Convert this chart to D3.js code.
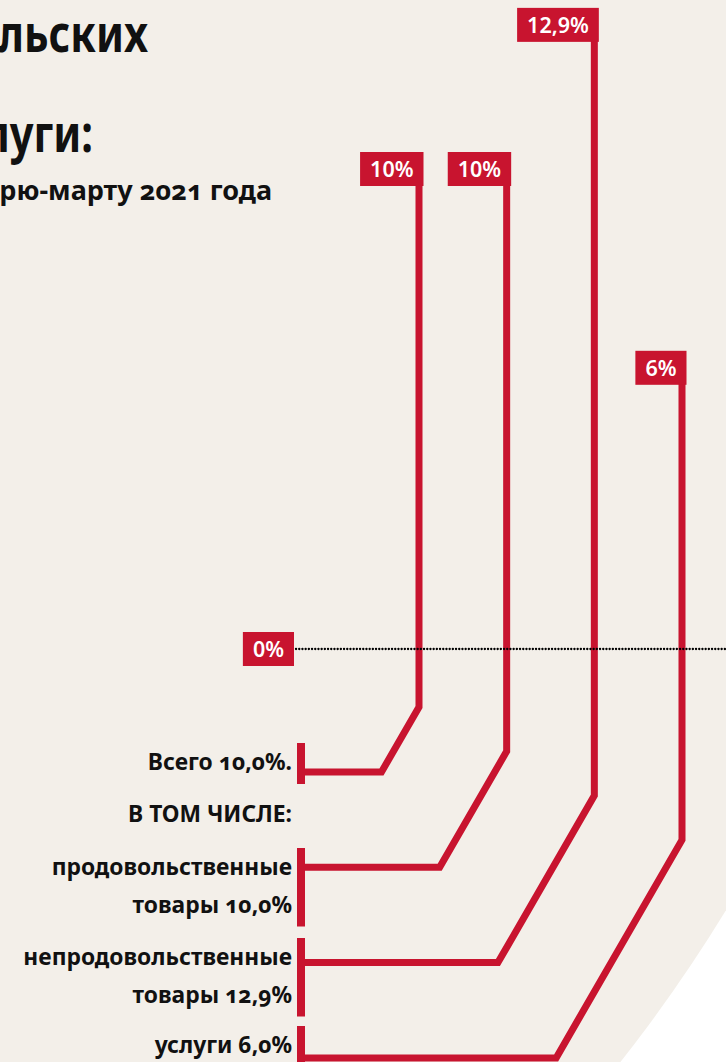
<!DOCTYPE html>
<html>
<head>
<meta charset="utf-8">
<script src="https://cdn.jsdelivr.net/npm/d3@7"></script>
<style>
  body { margin: 0; background: #fff; }
  svg { display: block; font-family: "Noto Sans", "Open Sans", sans-serif; }
</style>
</head>
<body>
<script>
const width = 726;
const height = 1062;

// data
const categories = ["Всего", "продовольственные товары", "непродовольственные товары", "услуги"];
const values = [10.0, 10.0, 12.9, 6.0];
const valueLabels = ["10%", "10%", "12,9%", "6%"];
const legendLines = [
    ["Всего 10,0%."],
    ["продовольственные", "товары 10,0%"],
    ["непродовольственные", "товары 12,9%"],
    ["услуги 6,0%"]
];
const zeroLabel = "0%";
const titleLines = ["потребительских", "услуги:"];
const subtitle = "к январю-марту 2021 года";
const inclHeader = "В ТОМ ЧИСЛЕ:";

const red = "#c8142f";
const beige = "#f3efe9";

const svg = d3.select("body").append("svg")
    .attr("width", width)
    .attr("height", height);

// big background disc
svg.append("circle")
    .attr("cx", -600)
    .attr("cy", 100)
    .attr("r", 1554)
    .attr("fill", beige);

const x = d3.scalePoint().domain(categories).range([419, 682]);
const y = d3.scaleLinear().domain([0, 12.9]).range([649, 649 - 49.7 * 12.9]);

const bracketX = 301;
const textRight = 292;
const firstBaseline = [770, 875, 965, 1053];
const lineGap = 37.5;

// title (cut by the left edge like in the source)
const title = svg.append("g").attr("font-weight", 700).attr("fill", "#111");
title.append("text")
    .attr("transform", "translate(148,52) scale(0.8,1)")
    .attr("text-anchor", "end")
    .attr("font-size", 52)
    .text(titleLines[0]);
title.append("text")
    .attr("transform", "translate(93,152) scale(0.8,1)")
    .attr("text-anchor", "end")
    .attr("font-size", 52)
    .text(titleLines[1]);
title.append("text")
    .attr("x", 272)
    .attr("y", 200)
    .attr("text-anchor", "end")
    .attr("font-size", 27)
    .style("font-variant-numeric", "oldstyle-nums")
    .text(subtitle);

// leader lines
const lineGen = d3.line();
svg.append("g")
    .selectAll("path")
    .data(categories)
    .join("path")
    .attr("fill", "none")
    .attr("stroke", red)
    .attr("stroke-width", 7)
    .attr("stroke-linejoin", "miter")
    .attr("d", (d, i) => {
        const bendY = 707 + 44.3 * i;
        const hy = 772 + 95.3 * i;
        const dx = (hy - bendY) / Math.tan(Math.PI / 3);
        const cx = x(d);
        return lineGen([[cx, y(values[i]) + 17], [cx, bendY], [cx - dx, hy], [bracketX, hy]]);
    });

// brackets next to the labels
svg.append("g")
    .selectAll("rect")
    .data(legendLines)
    .join("rect")
    .attr("fill", red)
    .attr("x", bracketX - 4)
    .attr("width", 8)
    .attr("y", (d, i) => firstBaseline[i] - 27)
    .attr("height", (d, i) => (d.length - 1) * lineGap + 41);

// zero line, dotted
svg.append("line")
    .attr("x1", 296)
    .attr("x2", width)
    .attr("y1", y(0))
    .attr("y2", y(0))
    .attr("stroke", "#000")
    .attr("stroke-width", 2.3)
    .attr("stroke-linecap", "round")
    .attr("stroke-dasharray", "0.1,3.1");

// value boxes
function valueBox(g, label, right, top) {
    const t = g.append("text")
        .attr("fill", "#fff")
        .attr("font-size", 21.5)
        .attr("font-weight", 600)
        .attr("text-anchor", "middle")
        .text(label);
    const w = t.node().getComputedTextLength() + 20;
    g.insert("rect", "text")
        .attr("x", right - w)
        .attr("y", top)
        .attr("width", w)
        .attr("height", 34)
        .attr("fill", red);
    t.attr("x", right - w / 2).attr("y", top + 25);
}

categories.forEach((c, i) => {
    valueBox(svg.append("g"), valueLabels[i], x(c) + 4.5, y(values[i]));
});
valueBox(svg.append("g"), zeroLabel, 294, y(0) - 17);

// legend labels
const legend = svg.append("g")
    .attr("font-size", 22.8)
    .attr("font-weight", 700)
    .attr("fill", "#111")
    .attr("text-anchor", "end")
    .style("font-variant-numeric", "oldstyle-nums");

legendLines.forEach((lines, i) => {
    lines.forEach((s, j) => {
        legend.append("text")
            .attr("x", textRight)
            .attr("y", firstBaseline[i] + j * lineGap)
            .text(s);
    });
});
legend.append("text")
    .attr("x", textRight)
    .attr("y", 822)
    .text(inclHeader);
</script>
</body>
</html>
